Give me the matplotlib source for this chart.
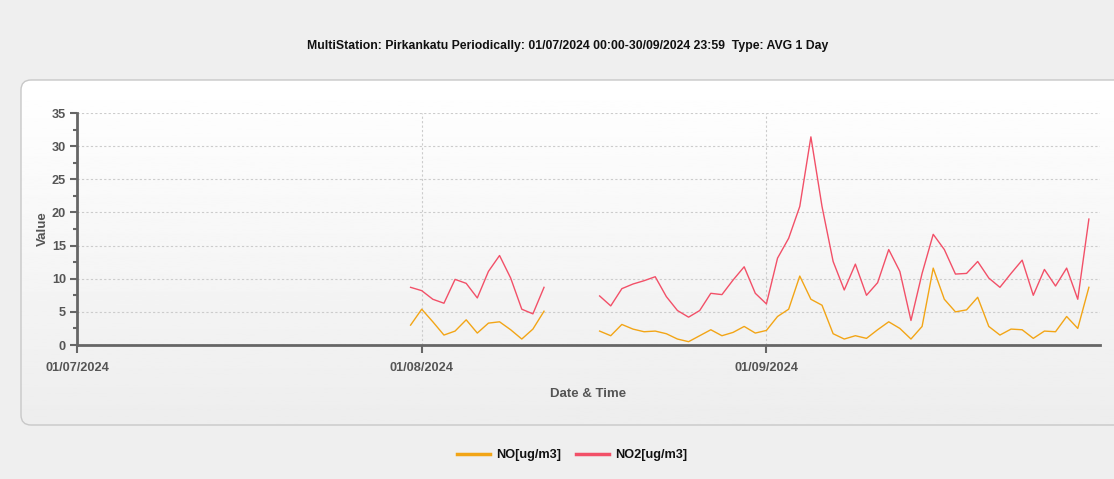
import numpy as np
import pandas as pd
import matplotlib
matplotlib.use("Agg")
import matplotlib.pyplot as plt
import matplotlib.dates as mdates
from matplotlib.patches import FancyBboxPatch
from matplotlib.lines import Line2D

plt.rcParams['font.family'] = ['Liberation Sans Narrow', 'Liberation Sans', 'DejaVu Sans']

# daily averages, 31/07/2024 .. 12/08/2024
no_part1 = [3.0, 5.4, 3.5, 1.5, 2.1, 3.8, 1.8, 3.3, 3.5, 2.3, 0.9, 2.4, 5.1]
no2_part1 = [8.7, 8.2, 6.9, 6.3, 9.9, 9.3, 7.1, 11.1, 13.5, 10.1, 5.4, 4.7, 8.7]
# no data 13/08 .. 16/08
gap_days = 4
# daily averages, 17/08/2024 .. 30/09/2024
no_part2 = [2.1, 1.4, 3.1, 2.4, 2.0, 2.1, 1.7, 0.9, 0.5, 1.4, 2.3, 1.4, 1.9, 2.8, 1.8,
            2.2, 4.3, 5.4, 10.4, 6.9, 6.0, 1.7, 0.9, 1.4, 1.0, 2.3, 3.5, 2.5, 0.9, 2.8,
            11.6, 6.9, 5.0, 5.3, 7.2, 2.8, 1.5, 2.4, 2.3, 1.0, 2.1, 2.0, 4.3, 2.5, 8.7]
no2_part2 = [7.4, 5.9, 8.5, 9.2, 9.7, 10.3, 7.3, 5.2, 4.2, 5.2, 7.8, 7.6, 9.8, 11.8, 7.8,
             6.2, 13.1, 16.1, 20.9, 31.4, 20.9, 12.6, 8.3, 12.2, 7.5, 9.4, 14.4, 11.1, 3.7, 10.8,
             16.7, 14.4, 10.7, 10.8, 12.6, 10.1, 8.7, 10.8, 12.8, 7.5, 11.4, 8.9, 11.6, 6.9, 19.0]

no_vals = no_part1 + [np.nan] * gap_days + no_part2
no2_vals = no2_part1 + [np.nan] * gap_days + no2_part2
dates = pd.date_range("2024-07-31", periods=len(no_vals), freq="D")

title = "MultiStation: Pirkankatu Periodically: 01/07/2024 00:00-30/09/2024 23:59  Type: AVG 1 Day"
no_color = '#f2a516'
no2_color = '#f25068'
text_color = '#555555'
W, H = 1114, 479

fig = plt.figure(figsize=(W / 100, H / 100), dpi=100)
fig.patch.set_facecolor('#efefef')

# white panel with soft gradient
bg = fig.add_axes([0, 0, 1, 1], zorder=0)
bg.set_xlim(0, W)
bg.set_ylim(H, 0)
bg.axis('off')
panel = FancyBboxPatch((21, 80), 1110, 345, boxstyle="round,pad=0,rounding_size=10",
                       facecolor='none', edgecolor='#c8c8c8', linewidth=1.0, zorder=2)
bg.add_patch(panel)
grad = np.linspace(1.0, 0.93, 256).reshape(-1, 1)
im = bg.imshow(grad, extent=(21, 1131, 425, 80), cmap='gray', vmin=0, vmax=1,
               aspect='auto', zorder=1)
im.set_clip_path(panel)

fig.text(568 / W, 1 - 46 / H, title, ha='center', va='center', fontsize=8.8,
         fontweight='bold', color='#111111')

ax = fig.add_axes([77 / W, 1 - 345 / H, (1100 - 77) / W, (345 - 113) / H], zorder=3)
ax.patch.set_alpha(0)
ax.plot(dates, no_vals, color=no_color, linewidth=1.0)
ax.plot(dates, no2_vals, color=no2_color, linewidth=1.0)

ax.set_xlim(pd.Timestamp("2024-07-01"), pd.Timestamp("2024-10-01"))
ax.set_ylim(0, 35)
ax.set_yticks(np.arange(0, 36, 5))
ax.set_yticks(np.arange(0, 35, 2.5), minor=True)
month_ticks = pd.to_datetime(["2024-07-01", "2024-08-01", "2024-09-01"])
ax.set_xticks(month_ticks)
ax.xaxis.set_major_formatter(mdates.DateFormatter("%d/%m/%Y"))

ax.grid(True, which='major', color='#cccccc', linestyle=(0, (2, 2)), linewidth=0.8)
for s in ['top', 'right']:
    ax.spines[s].set_visible(False)
for s in ['left', 'bottom']:
    ax.spines[s].set_color('#666666')
    ax.spines[s].set_linewidth(2)
ax.tick_params(axis='both', which='major', colors='#666666', length=5, width=1.5,
               labelcolor=text_color, labelsize=9.2, pad=3)
ax.tick_params(axis='x', which='major', length=6, pad=6)
ax.tick_params(axis='y', which='minor', colors='#666666', length=3, width=1.5)
for lab in ax.get_xticklabels() + ax.get_yticklabels():
    lab.set_fontweight('bold')

ax.set_xlabel("Date & Time", fontsize=9.5, fontweight='bold', color=text_color, labelpad=10)
ax.set_ylabel("Value", fontsize=9.5, fontweight='bold', color=text_color, labelpad=2)

handles = [Line2D([], [], color=no_color, linewidth=2.5),
           Line2D([], [], color=no2_color, linewidth=2.5)]
leg = fig.legend(handles, ["NO[ug/m3]", "NO2[ug/m3]"], loc='center',
                 bbox_to_anchor=(572 / W, 1 - 455 / H), ncol=2, frameon=False,
                 fontsize=9.2, handlelength=2.6, columnspacing=1.2, handletextpad=0.45)
for t in leg.get_texts():
    t.set_fontweight('bold')
    t.set_color('#111111')

fig.savefig("out.png", dpi=100, facecolor=fig.get_facecolor())
